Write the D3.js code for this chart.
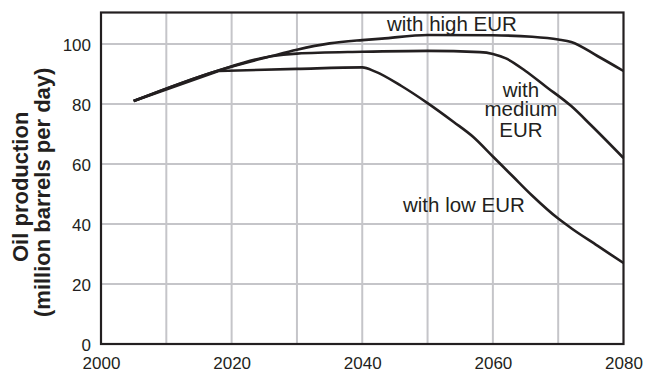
<!DOCTYPE html>
<html>
<head>
<meta charset="utf-8">
<script src="https://cdn.jsdelivr.net/npm/d3@7"></script>
<style>
  html, body { margin: 0; padding: 0; background: #fff; }
  svg { display: block; font-family: "Liberation Sans", Arial, Helvetica, sans-serif; }
</style>
</head>
<body>
<svg id="chart" width="645" height="372"></svg>
<script>
// Oil production scenarios (million barrels per day) by year
const highYears   = [2005, 2018, 2026, 2030, 2035, 2040, 2043, 2050, 2060, 2066, 2070, 2072, 2076, 2080];
const highValues  = [81, 91.2, 95.9, 98.1, 100.2, 101.3, 101.8, 103.0, 102.9, 102.4, 101.5, 100.7, 96.0, 91.0];

const mediumYears  = [2005, 2018, 2026, 2030, 2040, 2050, 2058, 2060, 2062, 2065, 2068, 2072, 2075, 2080];
const mediumValues = [81, 91.2, 95.9, 96.8, 97.4, 97.7, 97.3, 96.7, 95.2, 91.0, 86.0, 79.3, 73.0, 62.0];

const lowYears  = [2005, 2018, 2030, 2040, 2042, 2046, 2050, 2054, 2057, 2060, 2063, 2066, 2070, 2072, 2076, 2080];
const lowValues = [81, 91.0, 91.7, 92.2, 90.8, 86.0, 80.3, 74.0, 69.0, 62.5, 56.0, 49.5, 41.8, 38.6, 32.8, 27.0];

const xTicks = [2000, 2020, 2040, 2060, 2080];
const xGrid  = [2010, 2020, 2030, 2040, 2050, 2060, 2070];
const yTicks = [0, 20, 40, 60, 80, 100];
const yGrid  = [20, 40, 60, 80, 100];

const yTitleLines = ["Oil production", "(million barrels per day)"];

const ink = "#231f20";
const gridColor = "#c5c5c9";

const svg = d3.select("#chart");

const x = d3.scaleLinear().domain([2000, 2080]).range([101, 623.5]);
const y = d3.scaleLinear().domain([0, 110.5]).range([344, 12.5]);

// grid
const grid = svg.append("g");
grid.selectAll("line.gx").data(xGrid).join("line")
  .attr("x1", d => x(d)).attr("x2", d => x(d))
  .attr("y1", y.range()[1]).attr("y2", y.range()[0])
  .attr("stroke", gridColor).attr("stroke-width", 2);
grid.selectAll("line.gy").data(yGrid).join("line")
  .attr("x1", x.range()[0]).attr("x2", x.range()[1])
  .attr("y1", d => y(d)).attr("y2", d => y(d))
  .attr("stroke", gridColor).attr("stroke-width", 2);

// axes (labels only, the frame is drawn separately)
const xAxis = d3.axisBottom(x).tickValues(xTicks).tickFormat(d3.format("d")).tickSize(0).tickPadding(0);
const gx = svg.append("g").attr("transform", `translate(0,${y(0)})`).call(xAxis);
gx.select(".domain").remove();
gx.selectAll("text")
  .attr("y", 24.5).attr("dy", null)
  .attr("fill", ink).style("font-size", "17px").style("font-family", "Liberation Sans, Arial, sans-serif");

const yAxis = d3.axisLeft(y).tickValues(yTicks).tickSize(0).tickPadding(0);
const gy = svg.append("g").attr("transform", `translate(${x(2000)},0)`).call(yAxis);
gy.select(".domain").remove();
gy.selectAll("text")
  .attr("x", -10).attr("dy", "0.36em")
  .attr("fill", ink).style("font-size", "17px").style("font-family", "Liberation Sans, Arial, sans-serif");

// series lines
const smooth = d3.line().x(d => x(d[0])).y(d => y(d[1])).curve(d3.curveMonotoneX);
const straight = d3.line().x(d => x(d[0])).y(d => y(d[1])).curve(d3.curveLinear);

// low path: straight rise to the plateau, then a smooth curve from the corner onward
function lowPath(pts) {
  const head = straight(pts.slice(0, 2));
  const tail = smooth(pts.slice(1)).replace(/^M[^A-Za-z]*/, "");
  return head + tail;
}

const series = [
  { pts: d3.zip(highYears, highValues), draw: smooth },
  { pts: d3.zip(mediumYears, mediumValues), draw: smooth },
  { pts: d3.zip(lowYears, lowValues), draw: lowPath }
];
svg.append("g").selectAll("path").data(series).join("path")
  .attr("d", d => d.draw(d.pts))
  .attr("fill", "none")
  .attr("stroke", ink)
  .attr("stroke-width", 2.6)
  .attr("stroke-linejoin", "round");

// frame
svg.append("rect")
  .attr("x", x.range()[0]).attr("y", y.range()[1])
  .attr("width", x.range()[1] - x.range()[0])
  .attr("height", y.range()[0] - y.range()[1])
  .attr("fill", "none").attr("stroke", ink).attr("stroke-width", 2.2);

// series labels
const labelStyle = sel => sel.attr("fill", ink).style("font-size", "20.5px");
svg.append("text").attr("x", 387).attr("y", 31).text("with high EUR").call(labelStyle);
const med = svg.append("text").attr("text-anchor", "middle").call(labelStyle);
[["with", 96.5], ["medium", 116], ["EUR", 136.5]].forEach(([t, yy]) =>
  med.append("tspan").attr("x", 521).attr("y", yy).text(t));
svg.append("text").attr("x", 403).attr("y", 211.5).text("with low EUR").call(labelStyle);

// y-axis title
const yt = svg.append("g");
yt.append("text")
  .attr("transform", "translate(28,262) rotate(-90)")
  .attr("fill", ink).style("font-size", "22px").style("font-weight", "bold")
  .text(yTitleLines[0]);
yt.append("text")
  .attr("transform", "translate(50,317) rotate(-90)")
  .attr("fill", ink).style("font-size", "22px").style("font-weight", "bold")
  .text(yTitleLines[1]);
</script>
</body>
</html>
